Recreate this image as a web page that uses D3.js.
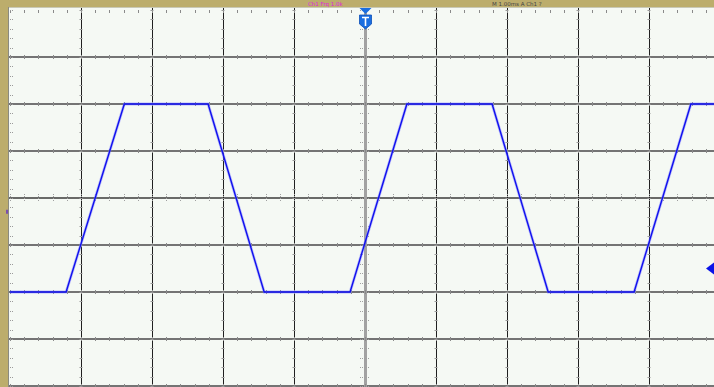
<!DOCTYPE html>
<html>
<head>
<meta charset="utf-8">
<script src="https://cdn.jsdelivr.net/npm/d3@7"></script>
<style>
  html, body { margin: 0; padding: 0; background: #f5f9f4; }
  svg { display: block; }
</style>
</head>
<body>
<svg id="scope"></svg>
<script>
// screen grid, in divisions
var xDivs = [0, 1, 2, 3, 4, 5, 6, 7, 8, 9, 10];
var yDivs = [-4, -3, -2, -1, 0, 1, 2, 3, 4];

// trace corners (time in div, level in div)
var traceTime  = [0, 0.79, 1.61, 2.79, 3.58, 4.79, 5.59, 6.79, 7.58, 8.79, 9.59, 10];
var traceLevel = [-2, -2, 2, 2, -2, -2, 2, 2, -2, -2, 2, 2];

// header text in the top frame
var headerLeft = "Ch1  Frq  1.0k";
var headerRight = "M  1.00ms  A  Ch1  ?";

var width = 714;
var height = 387;

var svg = d3.select("#scope")
  .attr("width", width)
  .attr("height", height);

var x = d3.scaleLinear().domain([0, 10]).range([10, 720]);
var y = d3.scaleLinear().domain([4, -4]).range([10, 386]);

// background of the screen
svg.append("rect")
  .attr("x", 0).attr("y", 0)
  .attr("width", width).attr("height", height)
  .attr("fill", "#f5f9f4");

// frame on the top and the left
svg.append("rect")
  .attr("x", 0).attr("y", 0)
  .attr("width", width).attr("height", 7)
  .attr("fill", "#bcad6c");
svg.append("rect")
  .attr("x", 0).attr("y", 0)
  .attr("width", 8).attr("height", height)
  .attr("fill", "#bcad6c");
svg.append("line")
  .attr("x1", 8).attr("x2", width)
  .attr("y1", 7.5).attr("y2", 7.5)
  .attr("stroke", "#c9c9b6").attr("stroke-width", 1);
svg.append("line")
  .attr("x1", 8.5).attr("x2", 8.5)
  .attr("y1", 7).attr("y2", height)
  .attr("stroke", "#8a8a80").attr("stroke-width", 1);

// header text, small enough to sit inside the frame
var hdr = svg.append("g")
  .style("font-family", "DejaVu Sans, sans-serif")
  .style("font-size", "5.5px");
hdr.append("text").attr("x", 308).attr("y", 5.5).attr("fill", "#e020e0").text(headerLeft);
hdr.append("text").attr("x", 492).attr("y", 5.5).attr("fill", "#444").text(headerRight);

var grid = svg.append("g");

// horizontal grid lines
grid.selectAll(".hgrid")
  .data(yDivs.filter(function (d) { return d !== 4; }))
  .enter().append("line")
  .attr("class", "hgrid")
  .attr("x1", 9).attr("x2", width)
  .attr("y1", function (d) { return y(d); })
  .attr("y2", function (d) { return y(d); })
  .attr("stroke", function (d) { return d === 0 ? "#3a3a3a" : "#8c8c8c"; })
  .attr("stroke-width", function (d) { return d === 0 ? 1.6 : 2; });
grid.selectAll(".hcore")
  .data(yDivs.filter(function (d) { return d !== 4 && d !== 0; }))
  .enter().append("line")
  .attr("class", "hcore")
  .attr("x1", 9).attr("x2", width)
  .attr("y1", function (d) { return y(d); })
  .attr("y2", function (d) { return y(d); })
  .attr("stroke", "#505050").attr("stroke-width", 0.8);

// vertical grid lines
grid.selectAll(".vgrid")
  .data(xDivs.filter(function (d) { return d !== 0; }))
  .enter().append("line")
  .attr("class", "vgrid")
  .attr("x1", function (d) { return Math.round(x(d)) + 0.5; })
  .attr("x2", function (d) { return Math.round(x(d)) + 0.5; })
  .attr("y1", 8).attr("y2", height)
  .attr("stroke", function (d) { return d === 5 ? "#a2a2a2" : "#202020"; })
  .attr("stroke-width", function (d) { return d === 5 ? 3 : 1; });

// minor ticks along horizontal lines (and the top edge)
var minorX = d3.range(0, 10.01, 0.2);
var minorY = d3.range(-4, 4.01, 0.2);
yDivs.forEach(function (lv) {
  var len = lv === 0 ? 4 : 2;
  grid.selectAll(null)
    .data(minorX)
    .enter().append("line")
    .attr("x1", function (d) { return Math.round(x(d)) + 0.5; })
    .attr("x2", function (d) { return Math.round(x(d)) + 0.5; })
    .attr("y1", lv === 4 ? y(lv) : y(lv) - len)
    .attr("y2", y(lv) + (lv === 4 ? 3 : len))
    .attr("stroke", lv === 0 ? "#a0a0a0" : "#8a8a8a")
    .attr("stroke-width", 1)
    .attr("stroke-dasharray", lv === 0 ? "1,1" : null);
});

// minor ticks along vertical lines (and the left edge)
xDivs.forEach(function (tv) {
  var len = tv === 5 ? 5 : 1.5;
  grid.selectAll(null)
    .data(minorY)
    .enter().append("line")
    .attr("x1", tv === 0 ? x(tv) : x(tv) - len)
    .attr("x2", x(tv) + (tv === 0 ? 4 : len))
    .attr("y1", function (d) { return Math.round(y(d)) + 0.5; })
    .attr("y2", function (d) { return Math.round(y(d)) + 0.5; })
    .attr("stroke", tv === 5 ? "#a0a0a0" : "#9a9a9a")
    .attr("stroke-width", 1)
    .attr("stroke-dasharray", (tv === 5 || tv === 0) ? "1,1" : null);
});

// the trace
var traceData = traceTime.map(function (t, i) { return [t, traceLevel[i]]; });
var line = d3.line()
  .x(function (d) { return x(d[0]); })
  .y(function (d) { return y(d[1]); });

svg.append("path")
  .datum(traceData)
  .attr("d", line)
  .attr("fill", "none")
  .attr("stroke", "#8080ff")
  .attr("stroke-width", 2.8)
  .attr("stroke-opacity", 0.5);
svg.append("path")
  .datum(traceData)
  .attr("d", line)
  .attr("fill", "none")
  .attr("stroke", "#1010ee")
  .attr("stroke-width", 1.4);

// trigger position marker at the top
var tx = Math.round(x(5)) + 0.5;
var marker = svg.append("g").attr("transform", "translate(" + tx + ",0)");
marker.append("path")
  .attr("d", "M-6,8 L6,8 L0,14 Z")
  .attr("fill", "#1a6ee0");
marker.append("path")
  .attr("d", "M-6,15 L6,15 L6,24 L0,29 L-6,24 Z")
  .attr("fill", "#1a6ee0")
  .attr("stroke", "#0d4fb8").attr("stroke-width", 0.8);
marker.append("path")
  .attr("d", "M-3.5,17.5 L3.5,17.5 M0,17.5 L0,26")
  .attr("stroke", "#ffffff").attr("stroke-width", 1.6);

// trigger level marker on the right
var ty = y(-1.5);
svg.append("path")
  .attr("d", "M" + (width - 8) + "," + ty + " L" + width + "," + (ty - 6) + " L" + width + "," + (ty + 6) + " Z")
  .attr("fill", "#0a14e8");

// ground marker on the left frame
svg.append("rect")
  .attr("x", 6).attr("y", y(-0.25))
  .attr("width", 2).attr("height", 4)
  .attr("fill", "#7a50b0");
</script>
</body>
</html>
